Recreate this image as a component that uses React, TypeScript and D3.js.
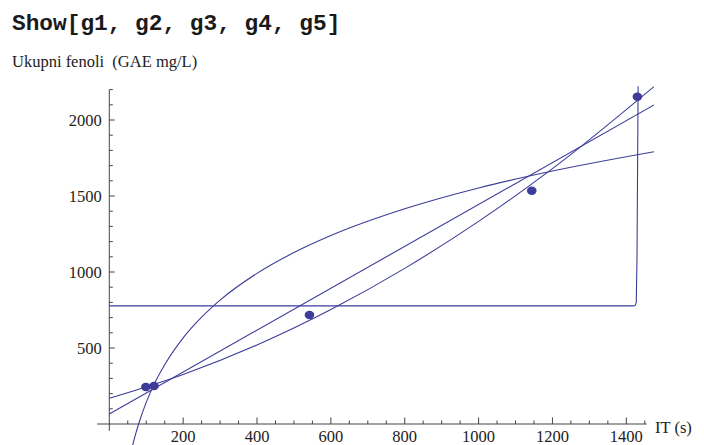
import React, { useRef, useEffect } from 'react';
import * as d3 from 'd3';

// measured points (g1)
const pointsX = [99, 121, 542, 1144, 1430];
const pointsY = [243, 250, 717, 1535, 2153];

// fitted curves
const linearX = [0, 1475];
const linearY = [66, 2099];

const quadX = [0, 200, 400, 600, 800, 1000, 1200, 1475];
const quadY = [169, 326, 520, 753, 1024, 1333, 1680, 2220];

const logX = [60, 70, 80, 100, 125, 150, 200, 250, 300, 400, 500, 600, 800, 1000, 1200, 1475];
const logY = [-171, -77, 5, 142, 279, 390, 567, 703, 815, 991, 1128, 1240, 1416, 1553, 1664, 1791];

const stepX = [0, 1418, 1424, 1427, 1429, 1432];
const stepY = [777, 777, 780, 800, 1100, 2240];

// axis ticks
const xMajor = [200, 400, 600, 800, 1000, 1200, 1400];
const yMajor = [500, 1000, 1500, 2000];

const App = () => {
  const svgRef = useRef<SVGSVGElement>(null);

  useEffect(() => {
    const width = 704;
    const height = 445;
    const blue = '#3d3d99';
    const axisColor = '#444';

    const svg = d3.select(svgRef.current);
    svg.selectAll('*').remove();
    svg.attr('width', width).attr('height', height);

    const x = d3.scaleLinear().domain([0, 1400]).range([109.3, 626.3]);
    const y = d3.scaleLinear().domain([0, 2000]).range([424, 120]);

    // title (input cell)
    svg.append('text')
      .attr('x', 12)
      .attr('y', 30)
      .attr('font-family', '"Liberation Mono", "Courier New", monospace')
      .attr('font-weight', 'bold')
      .attr('font-size', 22.8)
      .attr('fill', '#1a1a1a')
      .text('Show[g1, g2, g3, g4, g5]');

    const serif = '"Liberation Serif", "Times New Roman", serif';

    svg.append('text')
      .attr('x', 12)
      .attr('y', 66.5)
      .attr('font-family', serif)
      .attr('font-size', 16.5)
      .attr('fill', '#222')
      .attr('xml:space', 'preserve')
      .style('white-space', 'pre')
      .text('Ukupni fenoli  (GAE mg/L)');

    // clip region of the plot
    svg.append('defs').append('clipPath')
      .attr('id', 'plotClip')
      .append('rect')
        .attr('x', x(0) - 0.5)
        .attr('y', y(2222))
        .attr('width', x(1475) - x(0) + 0.5)
        .attr('height', y(-300) - y(2222));

    // axes
    const axes = svg.append('g').attr('stroke', axisColor).attr('stroke-width', 1);
    axes.append('line')
      .attr('x1', x(-33)).attr('x2', x(1455))
      .attr('y1', y(0)).attr('y2', y(0));
    axes.append('line')
      .attr('x1', x(0)).attr('x2', x(0))
      .attr('y1', y(-45)).attr('y2', y(2200));

    const xMinor = d3.range(50, 1451, 50).filter(v => xMajor.indexOf(v) < 0);
    const yMinor = d3.range(100, 2201, 100).filter(v => yMajor.indexOf(v) < 0);

    axes.selectAll('.xmaj').data(xMajor).enter().append('line')
      .attr('x1', d => x(d)).attr('x2', d => x(d))
      .attr('y1', y(0)).attr('y2', y(0) - 6.5);
    axes.selectAll('.xmin').data(xMinor).enter().append('line')
      .attr('x1', d => x(d)).attr('x2', d => x(d))
      .attr('y1', y(0)).attr('y2', y(0) - 3.5);
    axes.selectAll('.ymaj').data(yMajor).enter().append('line')
      .attr('x1', x(0)).attr('x2', x(0) + 5.5)
      .attr('y1', d => y(d)).attr('y2', d => y(d));
    axes.selectAll('.ymin').data(yMinor).enter().append('line')
      .attr('x1', x(0)).attr('x2', x(0) + 3.5)
      .attr('y1', d => y(d)).attr('y2', d => y(d));

    // tick labels
    svg.selectAll('.xlab').data(xMajor).enter().append('text')
      .attr('x', d => x(d))
      .attr('y', 442)
      .attr('text-anchor', 'middle')
      .attr('font-family', serif)
      .attr('font-size', 16.5)
      .attr('fill', '#222')
      .text(d => d);
    svg.selectAll('.ylab').data(yMajor).enter().append('text')
      .attr('x', x(0) - 7.5)
      .attr('y', d => y(d) + 5.5)
      .attr('text-anchor', 'end')
      .attr('font-family', serif)
      .attr('font-size', 16.5)
      .attr('fill', '#222')
      .text(d => d);

    svg.append('text')
      .attr('x', 655)
      .attr('y', 433)
      .attr('font-family', serif)
      .attr('font-size', 16.5)
      .attr('fill', '#222')
      .text('IT (s)');

    // curves
    const plot = svg.append('g').attr('clip-path', 'url(#plotClip)');
    const curves = [
      { xs: linearX, ys: linearY, curve: d3.curveLinear },
      { xs: quadX, ys: quadY, curve: d3.curveMonotoneX },
      { xs: logX, ys: logY, curve: d3.curveMonotoneX },
      { xs: stepX, ys: stepY, curve: d3.curveLinear },
    ];
    curves.forEach(c => {
      const line = d3.line<number>()
        .x(d => x(c.xs[d]))
        .y(d => y(c.ys[d]))
        .curve(c.curve);
      plot.append('path')
        .attr('d', line(d3.range(c.xs.length)))
        .attr('fill', 'none')
        .attr('stroke', blue)
        .attr('stroke-width', 1.1);
    });

    // points
    svg.selectAll('.pt').data(pointsX).enter().append('ellipse')
      .attr('cx', d => x(d))
      .attr('cy', (d, i) => y(pointsY[i]))
      .attr('rx', 4.8)
      .attr('ry', 4.2)
      .attr('fill', blue);
  }, []);

  return (
    <svg ref={svgRef} style={{ position: 'fixed', left: 0, top: 0, background: '#fff' }}></svg>
  );
};

export default App;
